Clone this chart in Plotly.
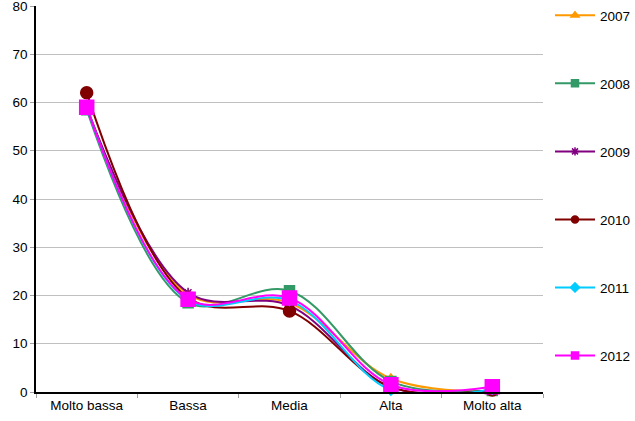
import plotly.graph_objects as go

categories = ["Molto bassa", "Bassa", "Media", "Alta", "Molto alta"]
years = ["2007", "2008", "2009", "2010", "2011", "2012"]
v2007 = [59.0, 20.2, 18.5, 2.8, 0.1]
v2008 = [58.5, 18.5, 21.0, 2.2, 0.3]
v2009 = [59.0, 20.6, 17.9, 1.0, 0.3]
v2010 = [62.0, 19.5, 16.8, 1.0, 0.4]
v2011 = [59.0, 19.0, 19.0, 0.4, 0.6]
v2012 = [59.0, 19.2, 19.5, 1.5, 1.1]
series = [v2007, v2008, v2009, v2010, v2011, v2012]
colors = ["#FF9900", "#339966", "#800080", "#800000", "#00CCFF", "#FF00FF"]
symbols = ["triangle-up", "square", "asterisk-open", "circle", "diamond", "square"]
sizes = [9, 10, 8, 12, 8, 14]

fig = go.Figure()
for name, vals, c, s, sz in zip(years, series, colors, symbols, sizes):
    fig.add_trace(go.Scatter(
        x=categories, y=vals, name=name, mode="lines+markers",
        line=dict(color=c, width=2, shape="spline", smoothing=1.0),
        marker=dict(color=c, symbol=s, size=sz, line=dict(color=c, width=1.5)),
        cliponaxis=False, legendgroup=name, showlegend=False,
    ))
# legend entries with small markers, like the original legend
for name, c, s in zip(years, colors, symbols):
    fig.add_trace(go.Scatter(
        x=[None], y=[None], name=name, mode="lines+markers",
        line=dict(color=c, width=2),
        marker=dict(color=c, symbol=s, size=7, line=dict(color=c, width=1.5)),
        legendgroup=name, showlegend=True,
    ))

fig.update_layout(
    width=635, height=421,
    margin=dict(l=36, r=92, t=6, b=29, autoexpand=False),
    paper_bgcolor="white", plot_bgcolor="white",
    font=dict(family="Liberation Sans, Arial", size=13.5, color="black"),
    showlegend=True,
    legend=dict(xref="container", yref="container",
                x=550 / 635, xanchor="left", y=1.012, yanchor="top",
                tracegroupgap=47.5, font=dict(size=13.5), maxheight=1,
                bgcolor="rgba(0,0,0,0)", itemwidth=40),
)
fig.update_xaxes(
    type="category", range=[-0.5, 4.5], showgrid=False, automargin=False,
    showline=True, linecolor="black", linewidth=1.5,
    ticks="outside", tickson="boundaries", ticklen=4, tickcolor="#a0a0a0",
    tickfont=dict(size=13.5),
)
fig.update_yaxes(
    range=[0, 80], dtick=10, showgrid=True, gridcolor="#c0c0c0", gridwidth=1,
    showline=True, linecolor="black", linewidth=1.5, automargin=False,
    ticks="outside", ticklen=4, tickcolor="#a0a0a0", ticklabeloverflow="allow",
    tickfont=dict(size=13.5), zeroline=False,
)
fig.write_html("out.html", config={"displayModeBar": False},
               post_script="document.body.style.margin='0';")
